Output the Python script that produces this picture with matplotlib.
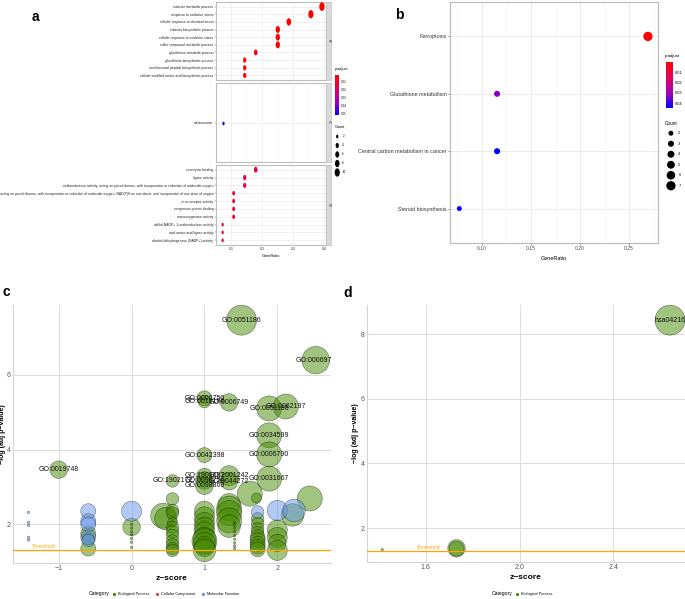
import numpy as np
import matplotlib
matplotlib.use("Agg")
import matplotlib.pyplot as plt
from matplotlib.colors import LinearSegmentedColormap, Normalize
from matplotlib.cm import ScalarMappable
from matplotlib.lines import Line2D
from matplotlib.path import Path
from matplotlib.transforms import Affine2D

plt.rcParams['font.family'] = ['Liberation Sans', 'DejaVu Sans']
NARROW = ['Liberation Sans Narrow', 'Liberation Sans']

W, H = 685, 599

# ---------------- panel a: GO dot plot ----------------
bp_terms = ["cofactor metabolic process", "response to oxidative stress",
            "cellular response to chemical stress", "cofactor biosynthetic process",
            "cellular response to oxidative stress", "sulfur compound metabolic process",
            "glutathione metabolic process", "glutathione biosynthetic process",
            "nonribosomal peptide biosynthetic process",
            "cellular modified amino acid biosynthetic process"]
bp_count = [11, 10, 8, 7, 7, 7, 5, 4, 4, 4]
bp_padj = [0.0017, 0.0017, 0.0019, 0.002, 0.002, 0.002, 0.002, 0.002, 0.002, 0.002]

cc_terms = ["melanosome"]
cc_count = [2]
cc_padj = [0.0516]

mf_terms = ["coenzyme binding", "ligase activity",
            "oxidoreductase activity, acting on paired donors, with incorporation or reduction of molecular oxygen",
            "oxidoreductase activity, acting on paired donors, with incorporation or reduction of molecular oxygen, "
            "NAD(P)H as one donor, and incorporation of one atom of oxygen",
            "virus receptor activity", "exogenous protein binding", "monooxygenase activity",
            "alditol:NADP+ 1-oxidoreductase activity", "acid-amino acid ligase activity",
            "alcohol dehydrogenase (NADP+) activity"]
mf_count = [5, 4, 4, 3, 3, 3, 3, 2, 2, 2]
mf_padj = [0.012] * 10
go_total = 28
a_count_keys = [2, 4, 6, 8, 10]
a_padj_ticks = [0.01, 0.02, 0.03, 0.04, 0.05]

# ---------------- panel b: KEGG dot plot ----------------
kegg_terms = ["Ferroptosis", "Glutathione metabolism",
              "Central carbon metabolism in cancer", "Steroid biosynthesis"]
kegg_count = [7, 3, 3, 2]
kegg_padj = [0.0002, 0.033, 0.0446, 0.0446]
kegg_total = 26
b_count_keys = [2, 3, 4, 5, 6, 7]
b_padj_ticks = [0.01, 0.02, 0.03, 0.04]

# ---------------- panel c: GO bubble ----------------
bp_lab = ["GO:0051186", "GO:0006979", "GO:0006750", "GO:0019184", "GO:0006749",
          "GO:0051188", "GO:0062197", "GO:0034599", "GO:0006790", "GO:0042398",
          "GO:0019748", "GO:0031667", "GO:1902172", "GO:1901687", "GO:0098754",
          "GO:0098869", "GO:2001242", "GO:0044272"]
bp_lab_z = [1.509, 2.528, 1.0, 1.0, 1.339, 1.888, 2.117, 1.888, 1.888, 1.0,
            -1.0, 1.888, 0.562, 1.0, 1.0, 1.0, 1.339, 1.339]
bp_lab_y = [7.46, 6.39, 5.37, 5.28, 5.26, 5.10, 5.15, 4.38, 3.87, 3.85,
            3.46, 3.22, 3.16, 3.30, 3.17, 3.03, 3.30, 3.15]
bp_lab_n = [12, 11, 6, 5, 7, 10, 10, 10, 10, 6, 7, 10, 5, 6, 7, 7, 8, 7]

bp_z = [1.623, 1.715, 2.446, 2.21, 0.434, 0.47,
        0.562, 0.562, 0.562, 0.562, 0.562, 0.562, 0.562, 0.562, 0.562, 0.562, 0.562,
        1.0, 1.0, 1.0, 1.0, 1.0, 1.0, 1.0, 1.0, 1.0, 1.0,
        1.339, 1.339, 1.339, 1.339, 1.339,
        1.73, 1.73, 1.73, 1.73, 1.73, 1.73, 1.73, 1.73, 1.73,
        2.0, 2.0, 2.0, 2.0,
        0.0, -0.594, -0.594, -0.594,
        0.0, 0.0, 0.0, 0.0, 0.0, 0.0, 0.0,
        1.414, 1.414, 1.414, 1.414, 1.414, 1.414, 1.414, 1.414, 1.414]
bp_y = [2.82, 2.70, 2.69, 2.25, 2.23, 2.15,
        2.68, 2.37, 2.30, 2.05, 1.92, 1.80, 1.70, 1.55, 1.45, 1.35, 1.30,
        2.35, 2.20, 2.05, 1.92, 1.80, 1.62, 1.55, 1.48, 1.40, 1.30,
        2.52, 2.42, 2.30, 2.10, 1.95,
        2.15, 2.02, 1.88, 1.78, 1.65, 1.58, 1.48, 1.40, 1.33,
        1.85, 1.65, 1.50, 1.30,
        1.93, 1.75, 1.62, 1.35,
        2.00, 1.90, 1.80, 1.72, 1.62, 1.52, 1.38,
        2.05, 1.98, 1.90, 1.80, 1.70, 1.60, 1.50, 1.42, 1.35]
bp_n = [10, 4, 10, 9, 10, 9,
        5, 5, 5, 4, 5, 5, 5, 5, 5, 5, 5,
        8, 8, 8, 8, 8, 9, 10, 9, 8, 9,
        9, 10, 10, 10, 9,
        5, 5, 5, 5, 6, 6, 6, 6, 6,
        8, 8, 7, 8,
        7, 6, 5, 6,
        1, 1, 1, 1, 1, 1, 1,
        1, 1, 1, 1, 1, 1, 1, 1, 1]

mf_z = [-0.594, -0.594, -0.594, -0.594, -0.594, 0.0, 1.73, 2.0, 2.23,
        -1.414, -1.414, -1.414, -1.414, -1.414]
mf_y = [2.35, 2.08, 2.00, 1.65, 1.57, 2.35, 2.33, 2.37, 2.37,
        2.32, 2.05, 1.97, 1.65, 1.58]
mf_n = [6, 6, 6, 6, 5, 8, 5, 8, 9, 1, 1, 1, 1, 1]

categories = ["Biological Process", "Cellular Component", "Molecular Function"]
cat_colors = ["#458B00", "#EE3B3B", "#6495ED"]

# ---------------- panel d: KEGG bubble ----------------
d_lab = ["hsa04216", "", "", ""]
d_z = [2.642, 1.731, 1.731, 1.414]
d_y = [8.44, 1.37, 1.36, 1.33]
d_n = [12, 7, 6, 1]

threshold = -np.log10(0.05)


def box(l, t, r, b):
    return [l / W, 1 - b / H, (r - l) / W, (b - t) / H]


fig = plt.figure(figsize=(W / 100, H / 100), dpi=100)

cmap = LinearSegmentedColormap.from_list(
    "padj", [(0, "#ff0000"), (0.35, "#df0060"), (0.7, "#9a00c0"), (1, "#0000ff")])
ellipse = Path.unit_circle().transformed(Affine2D().scale(0.62, 1.0))


def ell_size(n):
    return (2.62 * np.sqrt(np.asarray(n, float)) * 0.72) ** 2


norm_a = Normalize(0.0017, 0.0516)
facets = [(box(216, 2, 326, 80), bp_terms, bp_count, bp_padj, "BP"),
          (box(216, 83, 326, 162), cc_terms, cc_count, cc_padj, "CC"),
          (box(216, 165, 326, 245), mf_terms, mf_count, mf_padj, "MF")]
for i, (rect, terms, cnt, padj, strip) in enumerate(facets):
    ax = fig.add_axes(rect)
    y = np.arange(len(terms))
    ax.scatter(np.array(cnt) / go_total, y, s=ell_size(cnt), c=padj, cmap=cmap,
               norm=norm_a, marker=ellipse, linewidths=0, zorder=3)
    ax.set_xlim(0.059, 0.406)
    ax.set_ylim(len(terms) - 0.4, -0.6)
    ax.set_yticks(y)
    ax.set_yticklabels(terms, fontsize=2.4, family=NARROW, color="#222222")
    ax.set_xticks([0.1, 0.2, 0.3, 0.4])
    ax.set_xticks([0.05, 0.15, 0.25, 0.35], minor=True)
    ax.grid(True, which="major", color="#ebebeb", lw=0.5)
    ax.grid(True, which="minor", axis="x", color="#f3f3f3", lw=0.3)
    ax.set_axisbelow(True)
    ax.tick_params(axis="both", length=1, width=0.3, pad=0.8, color="#333333")
    ax.tick_params(axis="x", which="minor", length=0)
    for sp in ax.spines.values():
        sp.set_color("#bdbdbd")
        sp.set_linewidth(0.8)
    if i < 2:
        ax.tick_params(axis="x", labelbottom=False, length=0)
    else:
        ax.set_xticklabels(["0.1", "0.2", "0.3", "0.4"], fontsize=2.6, color="#333333")
        ax.set_xlabel("GeneRatio", fontsize=2.8, labelpad=2)
    l, b, w, h = rect
    sax = fig.add_axes([326 / W, b, 5 / W, h])
    sax.set_facecolor("#d9d9d9")
    sax.set_xticks([])
    sax.set_yticks([])
    for sp in sax.spines.values():
        sp.set_color("#bdbdbd")
        sp.set_linewidth(0.5)
    sax.text(0.5, 0.5, strip, rotation=-90, ha="center", va="center",
             fontsize=2.2, transform=sax.transAxes, color="#333333")

# panel a legends
fig.text(335 / W, 1 - 71 / H, "p.adjust", fontsize=2.8, va="bottom")
cax = fig.add_axes(box(335, 75, 339, 115))
cb = fig.colorbar(ScalarMappable(norm=norm_a, cmap=cmap), cax=cax, ticks=a_padj_ticks)
cb.outline.set_visible(False)
cax.invert_yaxis()
cax.tick_params(length=0, labelsize=2.2, pad=1)
cax.set_yticklabels([f"{v:.2f}" for v in a_padj_ticks])
fig.text(335 / W, 1 - 129 / H, "Count", fontsize=2.8, va="bottom")
lax = fig.add_axes(box(333, 132, 350, 177))
lax.axis("off")
lax.set_xlim(0, 1)
lax.set_ylim(len(a_count_keys) - 0.5, -0.5)
ky = np.arange(len(a_count_keys))
lax.scatter(np.full(len(ky), 0.25), ky, s=ell_size(a_count_keys), c="black",
            marker=ellipse, linewidths=0)
for yy, k in zip(ky, a_count_keys):
    lax.text(0.55, yy, str(k), fontsize=2.2, va="center")

# ---------------- panel b ----------------
norm_b = Normalize(0.0, 0.0446)
axb = fig.add_axes(box(450, 2, 658, 243))
yb = np.arange(len(kegg_terms))
axb.scatter(np.array(kegg_count) / kegg_total, yb, s=(3.5 * 0.72) ** 2 * np.array(kegg_count),
            c=kegg_padj, cmap=cmap, norm=norm_b, linewidths=0, zorder=3)
axb.set_xlim(0.0674, 0.2795)
axb.set_ylim(len(kegg_terms) - 0.4, -0.6)
axb.set_yticks(yb)
axb.set_yticklabels(kegg_terms, fontsize=3.9, color="#333333")
axb.set_xticks([0.10, 0.15, 0.20, 0.25])
axb.set_xticklabels(["0.10", "0.15", "0.20", "0.25"], fontsize=3.6, color="#4d4d4d")
axb.set_xticks([0.075, 0.125, 0.175, 0.225, 0.275], minor=True)
axb.grid(True, which="major", color="#ebebeb", lw=0.7)
axb.grid(True, which="minor", axis="x", color="#f3f3f3", lw=0.5)
axb.set_axisbelow(True)
axb.tick_params(length=1.5, width=0.4, pad=1, color="#333333")
axb.tick_params(which="minor", length=0)
for sp in axb.spines.values():
    sp.set_color("#bdbdbd")
    sp.set_linewidth(0.9)
axb.set_xlabel("GeneRatio", fontsize=4.0, labelpad=3)

fig.text(665 / W, 1 - 58 / H, "p.adjust", fontsize=3.2, va="bottom")
caxb = fig.add_axes(box(666, 62, 673, 108))
cbb = fig.colorbar(ScalarMappable(norm=norm_b, cmap=cmap), cax=caxb, ticks=b_padj_ticks)
cbb.outline.set_visible(False)
caxb.invert_yaxis()
caxb.tick_params(length=0, labelsize=2.8, pad=1.5)
caxb.set_yticklabels([f"{v:.2f}" for v in b_padj_ticks])
fig.text(665 / W, 1 - 126 / H, "Count", fontsize=3.4, va="bottom")
lbx = fig.add_axes(box(664, 128, 685, 191))
lbx.axis("off")
lbx.set_xlim(0, 1)
lbx.set_ylim(len(b_count_keys) - 0.5, -0.5)
kb = np.arange(len(b_count_keys))
lbx.scatter(np.full(len(kb), 0.33), kb, s=(3.5 * 0.72) ** 2 * np.array(b_count_keys), c="black",
            linewidths=0)
for yy, k in zip(kb, b_count_keys):
    lbx.text(0.68, yy, str(k), fontsize=2.8, va="center")


# ---------------- bubble helpers ----------------
def bubble_size(n):
    return (2 * 1.25 * np.asarray(n, float) * 0.72) ** 2


def style_bubble_axes(ax, label_x):
    ax.grid(True, color="#dcdcdc", lw=0.7)
    ax.set_axisbelow(True)
    for side in ["top", "right"]:
        ax.spines[side].set_visible(False)
    for side in ["left", "bottom"]:
        ax.spines[side].set_color("#d4d4d4")
        ax.spines[side].set_linewidth(0.8)
    ax.tick_params(length=0, labelsize=5, labelcolor="#555555", pad=1.5)
    ax.set_xlabel("z\u2212score", fontsize=6, fontweight="bold", labelpad=2)
    ax.set_ylabel("\u2212log (adj p\u2212value)", fontsize=5, fontweight="bold")
    ax.yaxis.set_label_coords(label_x, 0.5)


edge = (0, 0, 0, 0.35)

# ---------------- panel c ----------------
axc = fig.add_axes(box(13, 305, 331, 563))
axc.scatter(bp_z, bp_y, s=bubble_size(bp_n), color=cat_colors[0], alpha=0.5,
            edgecolors=edge, linewidths=0.4, zorder=2)
axc.scatter(bp_lab_z, bp_lab_y, s=bubble_size(bp_lab_n), color=cat_colors[0], alpha=0.5,
            edgecolors=edge, linewidths=0.4, zorder=2)
axc.scatter(mf_z, mf_y, s=bubble_size(mf_n), color=cat_colors[2], alpha=0.5,
            edgecolors=edge, linewidths=0.4, zorder=3)
for z, yv, t in zip(bp_lab_z, bp_lab_y, bp_lab):
    axc.text(z, yv, t, fontsize=5, ha="center", va="center", color="#111111", zorder=5, clip_on=True)
axc.axhline(threshold, color="orange", lw=0.9, zorder=4)
axc.text(-1.37, threshold + 0.03, "Threshold", color="orange", fontsize=3.8, va="bottom")
axc.set_xlim(-1.627, 2.737)
axc.set_ylim(0.964, 7.866)
axc.set_xticks([-1, 0, 1, 2])
axc.set_yticks([2, 4, 6])
style_bubble_axes(axc, -0.021)

fig.text(99 / W, 1 - 594 / H, "Category", fontsize=3.6, ha="center", va="center")
handles = [Line2D([], [], marker="o", ls="", color=c, markersize=1.3) for c in cat_colors]
fig.legend(handles, categories, loc="center left", bbox_to_anchor=(110 / W, 1 - 594 / H),
           ncol=3, frameon=False, fontsize=2.8, handlelength=1.2, handletextpad=0.4,
           columnspacing=1.4, borderpad=0)

# ---------------- panel d ----------------
axd = fig.add_axes(box(367, 305, 685, 562))
axd.scatter(d_z, d_y, s=bubble_size(d_n), color=cat_colors[0], alpha=0.5,
            edgecolors=edge, linewidths=0.4, zorder=2)
for z, yv, t in zip(d_z, d_y, d_lab):
    if t:
        axd.text(z, yv, t, fontsize=5, ha="center", va="center", color="#111111", zorder=5)
axd.axhline(threshold, color="orange", lw=0.9, zorder=4)
axd.text(1.56, threshold + 0.03, "Threshold", color="orange", fontsize=3.8, va="bottom")
axd.set_xlim(1.349, 2.706)
axd.set_ylim(0.947, 8.91)
axd.set_xticks([1.6, 2.0, 2.4])
axd.set_xticklabels(["1.6", "2.0", "2.4"])
axd.set_yticks([2, 4, 6, 8])
style_bubble_axes(axd, -0.024)

fig.text(502 / W, 1 - 594 / H, "Category", fontsize=3.6, ha="center", va="center")
fig.legend(handles[:1], categories[:1], loc="center left", bbox_to_anchor=(513 / W, 1 - 594 / H),
           frameon=False, fontsize=2.8, handlelength=1.2, handletextpad=0.4, borderpad=0)

# panel letters
for x, y, s in [(35, 17, "a"), (399, 15, "b"), (6, 292, "c"), (348, 293, "d")]:
    fig.text(x / W, 1 - y / H, s, fontsize=10, fontweight="bold", ha="center", va="center")

fig.savefig("out.png", dpi=100)
